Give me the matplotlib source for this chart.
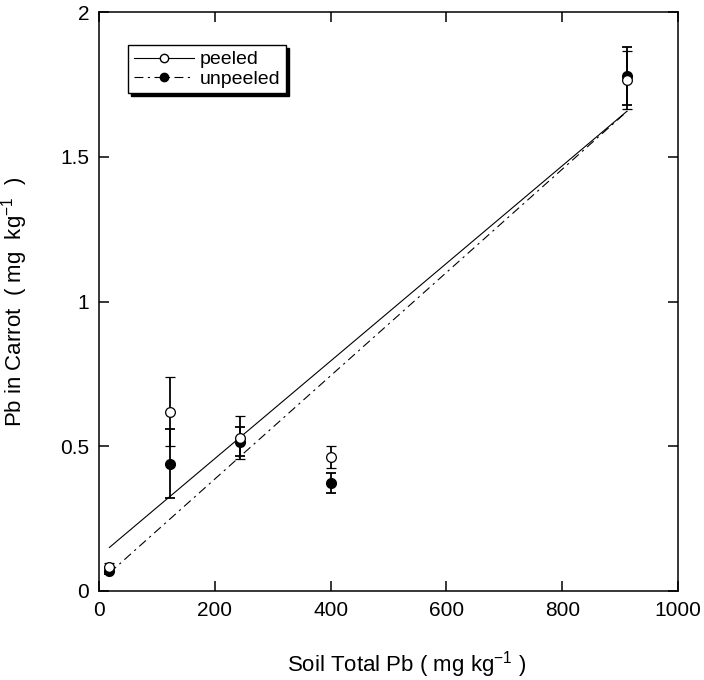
import numpy as np
import matplotlib
matplotlib.use('Agg')
import matplotlib.pyplot as plt
from matplotlib.lines import Line2D

plt.rcParams['font.family'] = ['Liberation Sans', 'DejaVu Sans']
plt.rcParams['mathtext.fontset'] = 'custom'
plt.rcParams['mathtext.rm'] = 'Liberation Sans'
plt.rcParams['mathtext.it'] = 'Liberation Sans'

# soil total Pb (mg/kg)
soil_pb = [18, 123, 244, 400, 912]

# Pb in carrot (mg/kg), mean and error
peeled = [0.083, 0.62, 0.53, 0.463, 1.765]
peeled_err = [0.012, 0.12, 0.075, 0.037, 0.10]
unpeeled = [0.069, 0.44, 0.515, 0.373, 1.78]
unpeeled_err = [0.012, 0.12, 0.05, 0.035, 0.10]

x_ticks = [0, 200, 400, 600, 800, 1000]
y_ticks = [0, 0.5, 1, 1.5, 2]
y_tick_labels = ['0', '0.5', '1', '1.5', '2']

fig = plt.figure(figsize=(7.04, 6.8), dpi=100)
ax = fig.add_axes([99 / 704, 1 - 591 / 680, 579 / 704, 579 / 680])

dashdot = (0, (8, 4, 2, 4))

# least-squares fit lines through each series
x = np.array(soil_pb, dtype=float)
xs = np.array([x.min(), x.max()])
p_fit = np.polyfit(x, peeled, 1)
u_fit = np.polyfit(x, unpeeled, 1)
ax.plot(xs, np.polyval(p_fit, xs), color='black', lw=0.8, ls='-')
ax.plot(xs, np.polyval(u_fit, xs), color='black', lw=0.8, ls=dashdot)

ax.errorbar(soil_pb, unpeeled, yerr=unpeeled_err, fmt='o', color='black',
            mfc='black', mec='black', ms=7, elinewidth=1.3, capsize=3.5,
            capthick=1.3, zorder=3)
ax.errorbar(soil_pb, peeled, yerr=peeled_err, fmt='o', color='black',
            mfc='white', mec='black', mew=0.9, ms=7, elinewidth=1.3,
            capsize=3.5, capthick=1.3, zorder=4)

ax.set_xlim(0, 1000)
ax.set_ylim(0, 2)
ax.set_xticks(x_ticks)
ax.set_xticklabels([str(t) for t in x_ticks])
ax.set_yticks(y_ticks)
ax.set_yticklabels(y_tick_labels)
ax.tick_params(direction='in', length=7, width=1.1, top=True, right=True,
               labelsize=15, pad=7)
for sp in ax.spines.values():
    sp.set_linewidth(1.1)

ax.set_xlabel(r'Soil Total Pb ( mg kg$^{-1}$ )', fontsize=16)
ax.set_ylabel(r'Pb in Carrot  ( mg  kg$^{-1}$  )', fontsize=16, labelpad=22)
ax.xaxis.set_label_coords(0.532, -0.1)

handles = [
    Line2D([], [], color='black', lw=0.8, ls='-', marker='o', mfc='white',
           mec='black', ms=6),
    Line2D([], [], color='black', lw=0.8, ls=dashdot, marker='o', mfc='black',
           mec='black', ms=6),
]
leg = ax.legend(handles, ['peeled', 'unpeeled'], loc='upper left',
                bbox_to_anchor=(0.05, 0.943), fontsize=14, frameon=True,
                fancybox=False, shadow={'color': 'black', 'alpha': 1},
                handlelength=3.1, handletextpad=0.3, borderpad=0.3,
                labelspacing=0.08, borderaxespad=0)
leg.get_frame().set_edgecolor('black')
leg.get_frame().set_linewidth(1.0)

fig.savefig('out.png', dpi=100)
